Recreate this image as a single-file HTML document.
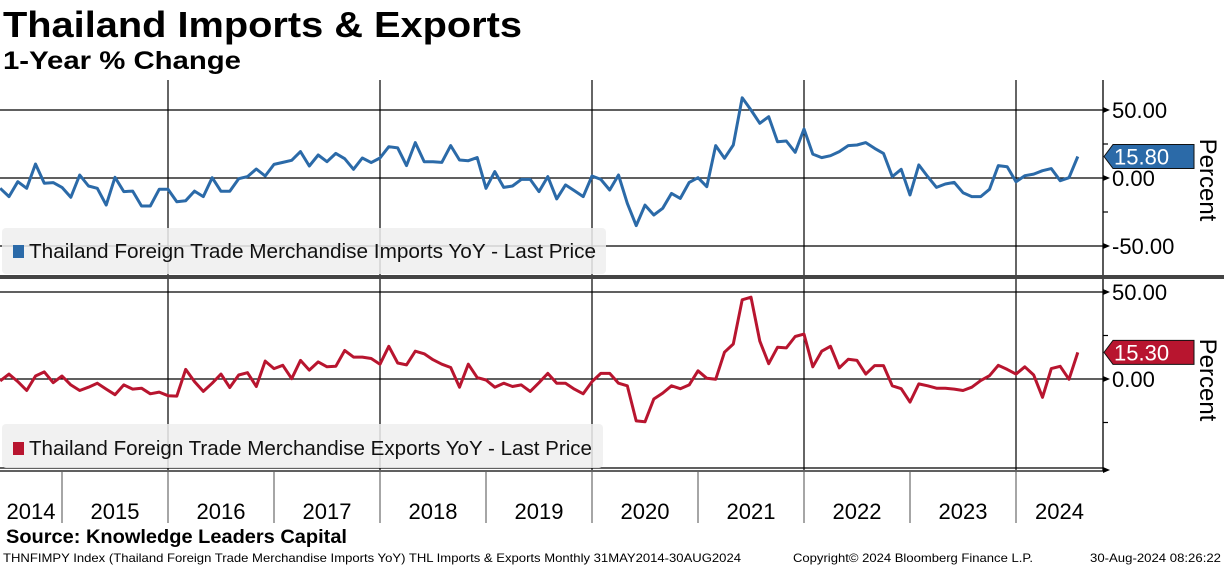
<!DOCTYPE html>
<html><head><meta charset="utf-8">
<style>
html,body{margin:0;padding:0;background:#fff;}
svg{display:block;font-family:"Liberation Sans",sans-serif;}
</style></head>
<body>
<svg id="chart" width="1224" height="566" viewBox="0 0 1224 566" xmlns="http://www.w3.org/2000/svg">
<text x="3" y="37" font-size="36" font-weight="bold" textLength="519" lengthAdjust="spacingAndGlyphs">Thailand Imports &amp; Exports</text>
<text x="3" y="69" font-size="25" font-weight="bold" textLength="238" lengthAdjust="spacingAndGlyphs">1-Year % Change</text>
<g id="grid"></g>
<g id="series"></g>
<g id="axes"></g>
<rect x="2" y="228" width="604" height="46" rx="4" fill="#eeeeee" fill-opacity="0.85"/>
<rect x="13" y="245" width="11" height="13" fill="#2b6aa8"/>
<text x="29" y="258" font-size="20" fill="#111" textLength="567" lengthAdjust="spacingAndGlyphs">Thailand Foreign Trade Merchandise Imports YoY - Last Price</text>
<rect x="2" y="424" width="601" height="44" rx="4" fill="#eeeeee" fill-opacity="0.85"/>
<rect x="13" y="442" width="11" height="13" fill="#b8152f"/>
<text x="29" y="455" font-size="20" fill="#111" textLength="563" lengthAdjust="spacingAndGlyphs">Thailand Foreign Trade Merchandise Exports YoY - Last Price</text>
<rect x="0" y="275" width="1224" height="4" fill="#444"/>
<text x="6" y="543" font-size="19" font-weight="bold" textLength="341" lengthAdjust="spacingAndGlyphs">Source: Knowledge Leaders Capital</text>
<text x="3" y="562" font-size="12" textLength="738" lengthAdjust="spacingAndGlyphs">THNFIMPY Index (Thailand Foreign Trade Merchandise Imports YoY) THL Imports &amp; Exports  Monthly 31MAY2014-30AUG2024</text>
<text x="793" y="562" font-size="12" textLength="240" lengthAdjust="spacingAndGlyphs">Copyright© 2024 Bloomberg Finance L.P.</text>
<text x="1090" y="562" font-size="12" textLength="131" lengthAdjust="spacingAndGlyphs">30-Aug-2024 08:26:22</text>
</svg>
<script>
const startMonth = 4; // May 2014 (months since Jan 2014)
const years = [2014,2015,2016,2017,2018,2019,2020,2021,2022,2023,2024];
const importsYoY = [-7.6,-13.7,-2.7,-7.6,10.3,-3.9,-3.4,-6.9,-14.2,2.2,-5.9,-7.6,-19.9,0.5,-10,-9.6,-20.6,-20.6,-8.3,-8.3,-17.4,-16.7,-9.6,-13.7,0.2,-9.8,-9.8,-0.5,1,6.6,1.5,10,11.5,13,19.4,8.8,16.9,12,18.1,14.2,6.4,14.7,11.3,14.7,23,22.1,9.1,26,12,12,11.5,23.8,13.2,12.7,15,-7.6,4.7,-6.9,-5.9,-1,-1,-10,1,-15.4,-5.1,-9.3,-13.7,1.5,-1,-8.8,2.2,
-18.6,-35,-19.9,-27.2,-22.3,-11.3,-15,-3.2,0.2,-6.4,23.8,14.5,24.3,59,50,40.2,45.1,26.7,27.2,18.9,36,17.6,15,16.4,19.4,23.8,24.3,26,21.8,18.1,1,6.4,-12.5,9.6,1,-6.9,-4.4,-3.2,-10.8,-13.7,-13.7,-8.3,9.1,8.3,-2.7,1.7,2.9,5.4,6.9,-2,0.2,15.8];
const exportsYoY = [-1.1,2.8,-1.5,-6.6,1.7,4.1,-2.1,1.7,-3.4,-6.6,-4.7,-2.4,-5.8,-9,-3.4,-5.8,-5.3,-8.5,-7.5,-9.6,-9.8,5.5,-1.5,-7.1,-2.4,2.8,-4.9,2.3,3.6,-4.3,10.3,6,7.9,0.2,10.7,5.1,9.8,7,7.3,16.4,12.6,12.6,11.8,8.5,18.8,9.2,8.1,16,14.5,11.1,8.5,6.6,-4.7,8.5,0.8,-0.6,-4.7,-2.4,-4.3,-3.4,-7.1,-2.1,3.2,-2.4,-2.4,-5.8,-8.5,-1.5,3.2,3.2,-2.4,
-3.9,-24.1,-24.6,-11.5,-8.1,-3.9,-5.6,-3.4,4.7,0.4,-0.2,15.4,20.1,45.5,47,21.8,8.8,18.2,17.9,24.4,25.8,7,16,18.8,6.4,11.3,10.7,2.8,7.7,7.7,-3.9,-5.6,-13.3,-2.8,-3.9,-5.3,-5.3,-5.8,-6.6,-4.7,-0.9,1.9,7.9,5.5,2.8,7,2.3,-10.5,6,7.3,-0.2,15.3];
const topTicks = [50,0,-50];
const topTickLabels = ["50.00","0.00","-50.00"];
const botTicks = [50,0];
const botTickLabels = ["50.00","0.00"];

const NS="http://www.w3.org/2000/svg";
const PLOT_R=1103;
const monthW=106/12;
function xMonth(m){return -44+(m+1)*monthW;}
function xYear(y){return -44+(y-2014)*106;}
function yTop(v){return 178-1.36*v;}
function yBot(v){return 379-1.74*v;}
function mk(tag,attrs,parent){const e=document.createElementNS(NS,tag);for(const k in attrs)e.setAttribute(k,attrs[k]);parent.appendChild(e);return e;}
const grid=document.getElementById('grid'),series=document.getElementById('series'),axes=document.getElementById('axes');

topTicks.forEach(v=>{const l=mk('line',{x1:0,x2:PLOT_R,y1:yTop(v),y2:yTop(v),stroke:'#000','stroke-width':1.3},grid);

});
botTicks.forEach(v=>{const l=mk('line',{x1:0,x2:PLOT_R,y1:yBot(v),y2:yBot(v),stroke:'#000','stroke-width':1.3},grid);

});
years.forEach(y=>{if(y%2===0&&y>2014){const x=xYear(y);const l=mk('line',{x1:x,x2:x,y1:80,y2:470,stroke:'#000','stroke-width':1.2},grid);

}});

function drawLine(data,yf,color,name){
  const pts=data.map((v,i)=>xMonth(startMonth+i).toFixed(1)+','+yf(v).toFixed(1)).join(' ');
  const p=mk('polyline',{points:pts,fill:'none',stroke:color,'stroke-width':3,'stroke-linejoin':'round'},series);
  
  
}
drawLine(importsYoY,yTop,'#2b6aa8','imports-line');
drawLine(exportsYoY,yBot,'#b8152f','exports-line');

mk('line',{x1:PLOT_R,x2:PLOT_R,y1:80,y2:275,stroke:'#000','stroke-width':1.3},axes);
mk('line',{x1:PLOT_R,x2:PLOT_R,y1:279,y2:471,stroke:'#000','stroke-width':1.3},axes);
mk('line',{x1:0,x2:PLOT_R,y1:468,y2:468,stroke:'#000','stroke-width':1.2},axes);
mk('line',{x1:0,x2:PLOT_R,y1:471,y2:471,stroke:'#000','stroke-width':1.2},axes);
function arrowTick(y){mk('polygon',{points:`${PLOT_R},${y-3} ${PLOT_R+7},${y} ${PLOT_R},${y+3}`,fill:'#000'},axes);}
function minorTick(y){mk('line',{x1:PLOT_R,x2:PLOT_R+5,y1:y,y2:y,stroke:'#000','stroke-width':1.2},axes);}
topTicks.forEach((v,i)=>{arrowTick(yTop(v));const t=mk('text',{x:1112,y:yTop(v)+8,'font-size':22,fill:'#000'},axes);t.textContent=topTickLabels[i];

});
[25,-25].forEach(v=>minorTick(yTop(v)));
botTicks.forEach((v,i)=>{arrowTick(yBot(v));const t=mk('text',{x:1112,y:yBot(v)+8,'font-size':22,fill:'#000'},axes);t.textContent=botTickLabels[i];

});
[25,-25].forEach(v=>minorTick(yBot(v)));
arrowTick(470);
[[180,'top-y-axis-title'],[380,'bottom-y-axis-title']].forEach(([cy,n])=>{const t=mk('text',{x:0,y:0,'font-size':24,'text-anchor':'middle',transform:`translate(1200,${cy}) rotate(90)`},axes);t.textContent='Percent';

});
function tag(v,yf,color,name){const y=yf(v);const g=mk('g',{},axes);


mk('polygon',{points:`${PLOT_R+1},${y} ${PLOT_R+10},${y-12} ${1194},${y-12} ${1194},${y+12} ${PLOT_R+10},${y+12}`,fill:color,stroke:'#111','stroke-width':1},g);
const t=mk('text',{x:1114,y:y+8,'font-size':22,fill:'#fff'},g);t.textContent=v.toFixed(2);}
tag(importsYoY[importsYoY.length-1],yTop,'#2b6aa8','imports-last-value-tag');
tag(exportsYoY[exportsYoY.length-1],yBot,'#b8152f','exports-last-value-tag');
years.forEach(y=>{
  const x0=Math.max(0,xYear(y)),x1=Math.min(PLOT_R,xYear(y+1));
  if(y>2014){const l=mk('line',{x1:xYear(y),x2:xYear(y),y1:472,y2:523,stroke:'#777','stroke-width':1.3},axes);
  
  }
  const t=mk('text',{x:(x0+x1)/2,y:519,'font-size':22,'text-anchor':'middle',fill:'#000'},axes);
  t.textContent=String(y);
  
  
});
</script>
</body></html>
